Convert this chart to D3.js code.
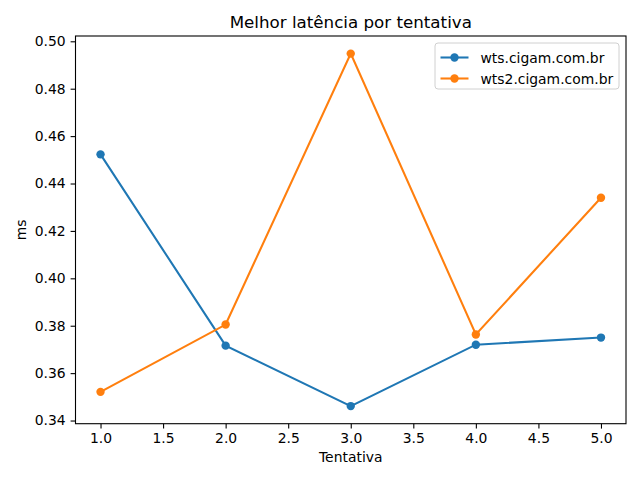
<!DOCTYPE html>
<html>
<head>
<meta charset="utf-8">
<script src="https://cdn.jsdelivr.net/npm/d3@7"></script>
<style>
  body { margin: 0; background: #fff; }
  text { font-family: "DejaVu Sans", sans-serif; fill: #000; }
</style>
</head>
<body>
<div id="chart"></div>
<script>
// values
const tentativas = [1, 2, 3, 4, 5];
const wtsValues = [0.4523, 0.3716, 0.3461, 0.3720, 0.3750];
const wts2Values = [0.3521, 0.3805, 0.4948, 0.3763, 0.4340];
const seriesNames = ["wts.cigam.com.br", "wts2.cigam.com.br"];
const xTicks = [1.0, 1.5, 2.0, 2.5, 3.0, 3.5, 4.0, 4.5, 5.0];
const yTicks = [0.34, 0.36, 0.38, 0.40, 0.42, 0.44, 0.46, 0.48, 0.50];

const colors = ["#1f77b4", "#ff7f0e"];
const W = 640, H = 480;
const margin = { top: 36, right: 14, bottom: 56.3, left: 75.5 };
const width = W - margin.left - margin.right;
const height = H - margin.top - margin.bottom;

const svg = d3.select("#chart").append("svg")
  .attr("width", W).attr("height", H);

const g = svg.append("g")
  .attr("transform", `translate(${margin.left}, ${margin.top})`);

// matplotlib style 5% padding
const pad = (lo, hi) => [lo - (hi - lo) * 0.05, hi + (hi - lo) * 0.05];
const allY = wtsValues.concat(wts2Values);

const x = d3.scaleLinear()
  .domain(pad(d3.min(tentativas), d3.max(tentativas)))
  .range([0, width]);

const y = d3.scaleLinear()
  .domain(pad(d3.min(allY), d3.max(allY)))
  .range([height, 0]);

const xAxis = g.append("g")
  .attr("transform", `translate(0, ${height})`)
  .call(d3.axisBottom(x).tickValues(xTicks).tickFormat(d3.format(".1f")).tickSizeOuter(0).tickSize(4.9).tickPadding(4.9));

const yAxis = g.append("g")
  .call(d3.axisLeft(y).tickValues(yTicks).tickFormat(d3.format(".2f")).tickSizeOuter(0).tickSize(4.9).tickPadding(4.9));

[xAxis, yAxis].forEach(a => {
  a.select(".domain").remove();
  a.selectAll(".tick line").attr("stroke", "#000").attr("stroke-width", 1.1);
  a.selectAll(".tick text").attr("font-size", "13.9px").attr("font-family", "DejaVu Sans");
});

// frame
g.append("rect")
  .attr("width", width).attr("height", height)
  .attr("fill", "none").attr("stroke", "#000").attr("stroke-width", 1.1);

const series = [wtsValues, wts2Values];
const line = d3.line().x((d, i) => x(tentativas[i])).y(d => y(d));

series.forEach((vals, s) => {
  g.append("path")
    .datum(vals)
    .attr("fill", "none")
    .attr("stroke", colors[s])
    .attr("stroke-width", 2.08)
    .attr("d", line);
  g.selectAll(".pt" + s)
    .data(vals)
    .enter().append("circle")
    .attr("class", "pt" + s)
    .attr("cx", (d, i) => x(tentativas[i]))
    .attr("cy", d => y(d))
    .attr("r", 4.2)
    .attr("fill", colors[s]);
});

// title and labels
svg.append("text")
  .attr("x", margin.left + width / 2).attr("y", 28)
  .attr("text-anchor", "middle").attr("font-size", "16.7px")
  .text("Melhor latência por tentativa");

svg.append("text")
  .attr("x", margin.left + width / 2).attr("y", 462)
  .attr("text-anchor", "middle").attr("font-size", "13.9px")
  .text("Tentativa");

svg.append("text")
  .attr("transform", `translate(26, ${margin.top + height / 2}) rotate(-90)`)
  .attr("text-anchor", "middle").attr("font-size", "13.9px")
  .text("ms");

// legend
const legend = svg.append("g").attr("transform", "translate(435, 43)");
legend.append("rect")
  .attr("width", 184).attr("height", 46).attr("rx", 3)
  .attr("fill", "#fff").attr("fill-opacity", 0.8)
  .attr("stroke", "#d0d0d0").attr("stroke-width", 1);

seriesNames.forEach((name, i) => {
  const ly = 14.5 + i * 21;
  legend.append("line")
    .attr("x1", 5.5).attr("x2", 33.5).attr("y1", ly).attr("y2", ly)
    .attr("stroke", colors[i]).attr("stroke-width", 2.08);
  legend.append("circle")
    .attr("cx", 19.5).attr("cy", ly).attr("r", 4.2).attr("fill", colors[i]);
  legend.append("text")
    .attr("x", 45.5).attr("y", ly + 5)
    .attr("font-size", "13.9px")
    .text(name);
});
</script>
</body>
</html>
